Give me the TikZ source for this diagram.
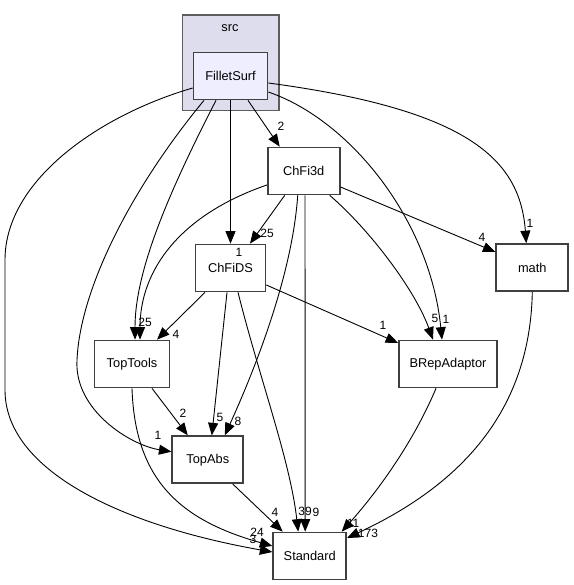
\documentclass[tikz,border=0pt]{standalone}
\usepackage{fontspec}
\setmainfont{Liberation Sans}
\usetikzlibrary{arrows.meta}

\definecolor{clusterfill}{HTML}{DDDDEE}
\definecolor{dirfill}{HTML}{EEEEFF}
\definecolor{boxline}{HTML}{404040}

\begin{document}
\begin{tikzpicture}[x=1pt, y=-1pt,
  dir/.style={draw=boxline, line width=1.7pt, fill=white, minimum height=\boxh, inner sep=0pt, font=\fontsize{12.8}{15}\selectfont},
  dep/.style={line width=0.9pt, -{Triangle[length=12.5pt,width=10pt]}},
  lbl/.style={inner sep=0pt, font=\fontsize{12}{14}\selectfont}]%[remember picture, overlay]

\def\boxh{47pt}

\useasboundingbox (0,0) rectangle (573,585);

\draw[draw=boxline!85, line width=1.2pt, fill=clusterfill] (182.3,15) rectangle (279,110.7);

\node[lbl, font=\fontsize{12.8}{15}\selectfont] (src-label) at (230,27.7) {src};

\node[dir, fill=dirfill, minimum width=74pt] (filletsurf) at (230.5,76) {FilletSurf};

\node[dir, minimum width=72pt] (chfi3d) at (303.7,171) {ChFi3d};

\node[dir, minimum width=70pt] (chfids) at (230.5,268) {ChFiDS};

\node[dir, minimum width=72pt] (math) at (532.3,267.5) {math};

\node[dir, minimum width=75pt] (toptools) at (132,364) {TopTools};

\node[dir, minimum width=98pt] (brepadaptor) at (448,364) {BRepAdaptor};

\node[dir, minimum width=71pt] (topabs) at (207.8,459.7) {TopAbs};

\node[dir, minimum width=73pt] (standard) at (309.7,556) {Standard};

% FilletSurf
\draw[dep] ([xshift=17.5pt]filletsurf.south) -- ([xshift=-24pt]chfi3d.north);

\draw[dep] (filletsurf.south) -- (chfids.north);

\draw[dep] ([yshift=-7pt]filletsurf.east) .. controls (470,110) and (520,160) .. ([xshift=-6pt]math.north);

\draw[dep] ([yshift=-16pt]filletsurf.east) .. controls (350,120) and (430,220) .. ([xshift=-6pt]brepadaptor.north);

\draw[dep] ([xshift=-14.5pt]filletsurf.south) .. controls (170,190) and (135,270) .. ([xshift=3pt]toptools.north);

\draw[dep] ([xshift=-26.5pt]filletsurf.south) .. controls (130,190) and (80,290) .. (77,360) .. controls (74,410) and (130,445) .. ([yshift=8pt]topabs.west);

\draw[dep] ([yshift=-12pt]filletsurf.west) .. controls (100,115) and (5,180) .. (5,260) -- (5,390) .. controls (5,470) and (120,525) .. ([yshift=4pt]standard.west);

% ChFi3d
\draw[dep] ([xshift=-19pt]chfi3d.south) -- ([xshift=19.5pt]chfids.north);

\draw[dep] ([yshift=-14pt]chfi3d.west) .. controls (180,215) and (140,270) .. ([xshift=8pt]toptools.north);

\draw[dep] ([xshift=-6pt]chfi3d.south) .. controls (292,280) and (250,380) .. ([xshift=17pt]topabs.north);

\draw[dep] ([xshift=1.3pt]chfi3d.south) -- ([xshift=-4.5pt]standard.north);

\draw[dep] ([xshift=26pt]chfi3d.south) .. controls (370,230) and (415,290) .. ([xshift=-15pt]brepadaptor.north);

\draw[dep] ([yshift=-16pt]chfi3d.east) -- ([yshift=15.5pt]math.west);

% ChFiDS
\draw[dep] ([xshift=-25.5pt]chfids.south) -- ([xshift=25pt]toptools.north);

\draw[dep] ([xshift=-3.5pt]chfids.south) -- ([xshift=4pt]topabs.north);

\draw[dep] ([xshift=7.5pt]chfids.south) .. controls (260,380) and (290,460) .. ([xshift=-11.5pt]standard.north);

\draw[dep] ([yshift=-17pt]chfids.east) -- ([yshift=21pt]brepadaptor.west);

% the rest
\draw[dep] ([xshift=20pt]toptools.south) -- ([xshift=-20pt]topabs.north);

\draw[dep] (toptools.south) .. controls (135,480) and (180,520) .. ([yshift=10pt]standard.west);

\draw[dep] ([xshift=25pt]topabs.south) -- ([xshift=-27pt]standard.north);

\draw[dep] ([xshift=-12pt]brepadaptor.south) .. controls (410,450) and (370,500) .. ([xshift=32pt]standard.north);

\draw[dep] (math.south) .. controls (530,420) and (450,490) .. ([yshift=18pt]standard.east);

% labels
\node[lbl] (l-fs-c3) at (281,126) {2};
\node[lbl] (l-fs-ds) at (239,252) {1};
\node[lbl] (l-fs-math) at (530,223) {1};
\node[lbl] (l-fs-brep) at (446,319) {1};
\node[lbl] (l-fs-tt) at (145,322) {25};
\node[lbl] (l-fs-ta) at (158,435) {1};
\node[lbl] (l-fs-std) at (253,539) {3};
\node[lbl] (l-c3-ds) at (267,233) {25};
\node[lbl] (l-c3-ta) at (238,421) {8};
\node[lbl] (l-c3-std) at (316,512) {9};
\node[lbl] (l-c3-brep) at (435,318) {5};
\node[lbl] (l-c3-math) at (482,237) {4};
\node[lbl] (l-ds-tt) at (176,334) {4};
\node[lbl] (l-ds-ta) at (220,417) {5};
\node[lbl] (l-ds-std) at (305,511) {39};
\node[lbl] (l-ds-brep) at (383,325) {1};
\node[lbl] (l-tt-ta) at (183,413) {2};
\node[lbl] (l-tt-std) at (257,532) {24};
\node[lbl] (l-ta-std) at (275,512) {4};
\node[lbl] (l-brep-std) at (353,523) {11};
\node[lbl] (l-math-std) at (368,533) {173};

\end{tikzpicture}
\end{document}
